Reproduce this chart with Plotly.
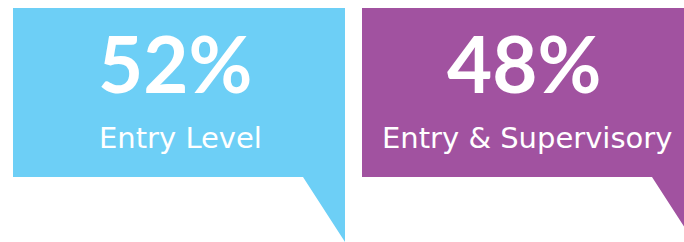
import plotly.graph_objects as go

labels = ["Entry Level", "Entry & Supervisory"]
values = [52, 48]
colors = ["#6DCFF6", "#A152A0"]
# bubble extents (left, right) in pixels
box_left = [13, 362]
box_right = [345, 694]
box_top = 8
box_bottom = 177
tail_dx = 42
tail_tip = 242
text_cx = [176, 525]

W, H = 684, 242
fig = go.Figure()
fig.add_trace(go.Scatter(x=[0], y=[0], mode="markers", marker=dict(opacity=0), hoverinfo="skip", showlegend=False))

for i, (lab, val, col) in enumerate(zip(labels, values, colors)):
    l, r = box_left[i], box_right[i]
    path = (f"M {l},{box_top} L {r},{box_top} L {r},{tail_tip} "
            f"L {r - tail_dx},{box_bottom} L {l},{box_bottom} Z")
    fig.add_shape(type="path", path=path, xref="x", yref="y",
                  fillcolor=col, line=dict(width=0), layer="below")
    fig.add_annotation(x=text_cx[i] - 1, y=63, xref="x", yref="y", text=f"{val}%",
                       showarrow=False, xanchor="center", yanchor="middle",
                       font=dict(family="Lato", size=78, color="white", weight=700))
    fig.add_annotation(x=text_cx[i] + (4 if i == 0 else 2), y=138, xref="x", yref="y", text=lab,
                       showarrow=False, xanchor="center", yanchor="middle",
                       font=dict(family="DejaVu Sans", size=29, color="white", weight=400))

fig.update_layout(
    width=W, height=H, margin=dict(l=0, r=0, t=0, b=0),
    paper_bgcolor="white", plot_bgcolor="white",
    xaxis=dict(range=[0, W], visible=False, fixedrange=True),
    yaxis=dict(range=[H, 0], visible=False, fixedrange=True),
    showlegend=False,
)
fig.write_html("out.html", config={"displayModeBar": False},
               post_script="document.body.style.margin='0';document.body.style.overflow='hidden';")
